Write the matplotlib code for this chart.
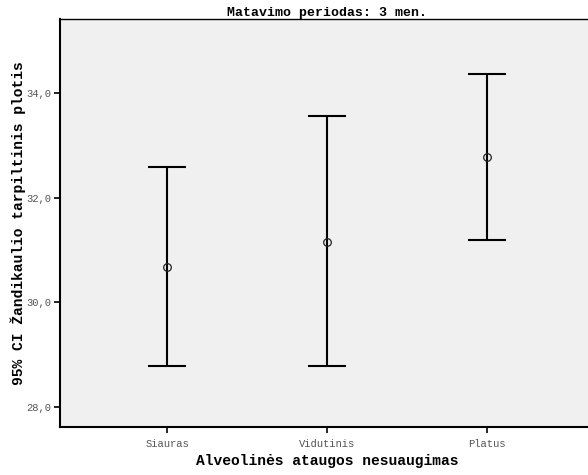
import matplotlib.pyplot as plt
import numpy as np

groups = ['Siauras', 'Vidutinis', 'Platus']
means = [30.67, 31.16, 32.78]
ci_low = [28.79, 28.78, 31.20]
ci_high = [32.58, 33.55, 34.36]
yticks = [28.0, 30.0, 32.0, 34.0]

plt.rcParams['font.family'] = ['Liberation Mono', 'DejaVu Sans Mono']

fig = plt.figure(figsize=(5.88, 4.75), dpi=100)
ax = fig.add_axes([0.102, 0.101, 0.908, 0.859])
ax.set_facecolor('#f0f0f0')

x = np.arange(len(groups))
means = np.array(means)
err = [means - np.array(ci_low), np.array(ci_high) - means]
ax.errorbar(x, means, yerr=err, fmt='none', ecolor='black', elinewidth=1.5,
            capsize=13.7, capthick=1.5)
ax.plot(x, means, 'o', markersize=5.5, markerfacecolor='none',
        markeredgecolor='#222222', markeredgewidth=0.9)

ax.set_xlim(-0.67, 2.67)
ax.set_ylim(27.62, 35.41)
ax.set_xticks(x)
ax.set_xticklabels(groups)
ax.set_yticks(yticks)
ax.set_yticklabels([f'{v:.1f}'.replace('.', ',') for v in yticks])
ax.tick_params(labelsize=7.6, labelcolor='#555555', length=4.5, width=1.2)
ax.tick_params(axis='x', pad=4)
ax.tick_params(axis='y', pad=2)

for s in ['left', 'bottom']:
    ax.spines[s].set_linewidth(1.5)
ax.spines['top'].set_linewidth(1.0)
ax.spines['right'].set_visible(False)

ax.set_title('Matavimo periodas: 3 men.', fontsize=9.5, fontweight='bold', pad=2)
ax.set_xlabel('Alveolinės ataugos nesuaugimas', fontsize=10.5, fontweight='bold', labelpad=4)
ax.set_ylabel('95% CI Žandikaulio tarpiltinis plotis', fontsize=10.5, fontweight='bold', labelpad=0)

fig.savefig('out.png', dpi=100)
